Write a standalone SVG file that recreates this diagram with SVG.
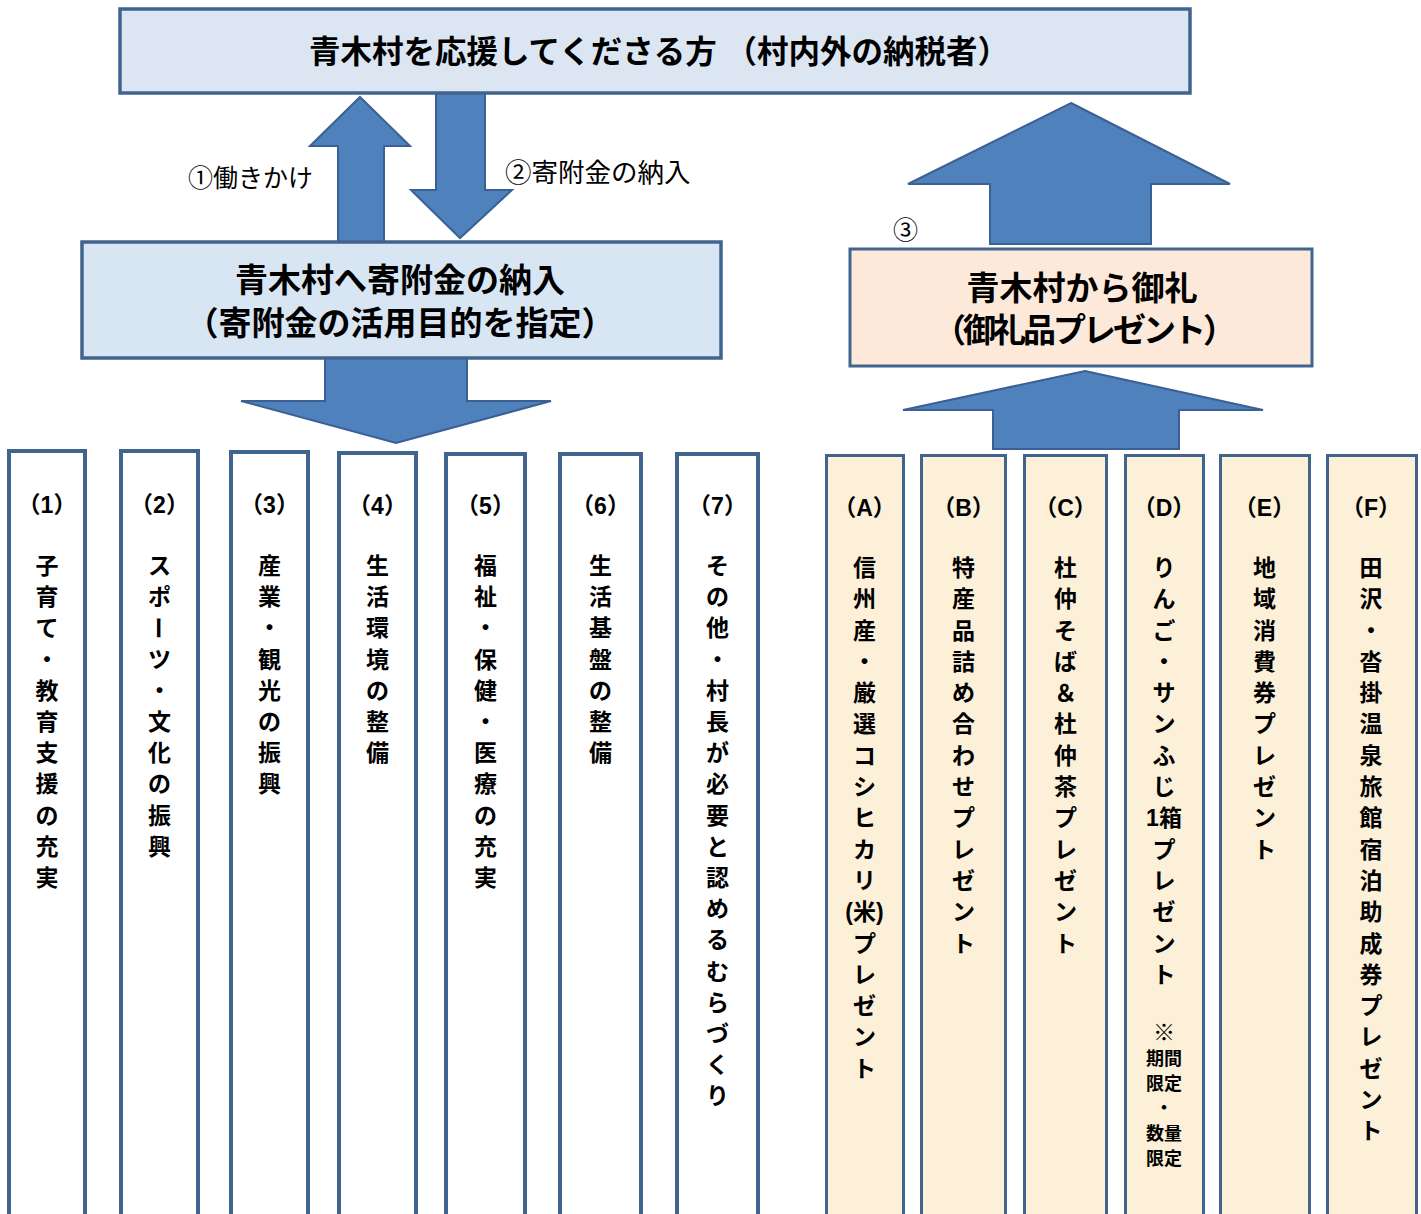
<svg xmlns="http://www.w3.org/2000/svg" width="1421" height="1214" viewBox="0 0 1421 1214">
<style>
text{font-family:"Liberation Sans","Noto Sans CJK JP",sans-serif;fill:#000}
.box{stroke:#41648f;stroke-width:3.5}
.arrow{fill:#4f81bd;stroke:#3a6094;stroke-width:2;stroke-linejoin:miter}
.colL{fill:#ffffff;stroke:#41648f;stroke-width:4}
.colR{fill:#fcf0d8;stroke:#41648f;stroke-width:3}
.h{font-weight:bold;text-anchor:middle;dominant-baseline:central}
.lbl{font-size:25px;dominant-baseline:central}
.ct{font-size:23px;font-weight:bold;text-anchor:middle;dominant-baseline:central}
.cl{font-size:23px;font-weight:bold;text-anchor:middle;dominant-baseline:central}
.note{font-family:"Noto Sans CJK JP",sans-serif;font-size:18px;font-weight:bold;text-anchor:middle;dominant-baseline:central}
</style>
<rect width="1421" height="1214" fill="#ffffff"/>
<g id="connectors">
<polygon class="arrow" points="360,97 410,146 384,146 384,242 338,242 338,146 310,146"/>
<polygon class="arrow" points="436,93 485,93 485,190 512,190 460,238 411,190 436,190"/>
<polygon class="arrow" points="325,358 467,358 467,401 551,401 396,443 241,401 325,401"/>
<polygon class="arrow" points="1071,103 1230,184 1151,184 1151,244 990,244 990,184 908,184"/>
<polygon class="arrow" points="1085,371 1263,410 1179,410 1179,449 993,449 993,410 903,410"/>
<text class="lbl" x="188" y="178">①働きかけ</text>
<text class="lbl" x="505" y="173" style="font-size:26.5px">②寄附金の納入</text>
<text class="lbl" x="893" y="230">③</text>
</g>
<g id="top">
<rect class="box" x="120" y="9" width="1070" height="84" fill="#dce6f2"/>
<text class="h" x="659" y="52" font-size="31.5">青木村を応援してくださる方 （村内外の納税者）</text>
</g>
<g id="donation">
<rect class="box" x="82" y="242" width="639" height="116" fill="#d8e6f4"/>
<text class="h" x="400" y="280" font-size="33">青木村へ寄附金の納入</text>
<text class="h" x="400" y="323" font-size="33">（寄附金の活用目的を指定）</text>
</g>
<g id="thanks">
<rect class="box" x="850" y="249" width="462" height="117" fill="#fde9d9" style="stroke-width:3"/>
<text class="h" x="1082" y="288" font-size="33">青木村から御礼</text>
<text class="h" x="1083" y="330" font-size="33" letter-spacing="-3">（御礼品プレゼント）</text>
</g>
<g id="col1">
<rect class="colL" x="9" y="451" width="76" height="790"/>
<text class="cl" x="47" y="505">（1）</text>
<text class="ct" x="47 47 47 47 47 47 47 47 47 47 47" y="566 597 628 660 691 722 753 784 816 847 878">子育て・教育支援の充実</text>
</g>
<g id="col2">
<rect class="colL" x="121" y="451" width="77" height="790"/>
<text class="cl" x="159.5" y="505">（2）</text>
<text class="ct" x="159.5 159.5" y="566 597">スポ<tspan x="150" y="608.5" rotate="90" style="text-anchor:start">ー</tspan><tspan x="159.5 159.5 159.5 159.5 159.5 159.5 159.5" y="660 691 722 753 784 816 847">ツ・文化の振興</tspan></text>
</g>
<g id="col3">
<rect class="colL" x="231" y="452" width="77" height="790"/>
<text class="cl" x="269.5" y="505">（3）</text>
<text class="ct" x="269.5 269.5 269.5 269.5 269.5 269.5 269.5 269.5" y="566 597 628 660 691 722 753 784">産業・観光の振興</text>
</g>
<g id="col4">
<rect class="colL" x="339" y="453" width="77" height="790"/>
<text class="cl" x="377.5" y="506">（4）</text>
<text class="ct" x="377.5 377.5 377.5 377.5 377.5 377.5 377.5" y="566 597 628 660 691 722 753">生活環境の整備</text>
</g>
<g id="col5">
<rect class="colL" x="446" y="454" width="79" height="790"/>
<text class="cl" x="485.5" y="506">（5）</text>
<text class="ct" x="485.5 485.5 485.5 485.5 485.5 485.5 485.5 485.5 485.5 485.5 485.5" y="566 597 628 660 691 722 753 784 816 847 878">福祉・保健・医療の充実</text>
</g>
<g id="col6">
<rect class="colL" x="560" y="454" width="81" height="790"/>
<text class="cl" x="600.5" y="506">（6）</text>
<text class="ct" x="600.5 600.5 600.5 600.5 600.5 600.5 600.5" y="566 597 628 660 691 722 753">生活基盤の整備</text>
</g>
<g id="col7">
<rect class="colL" x="677" y="454" width="81" height="790"/>
<text class="cl" x="717.5" y="506">（7）</text>
<text class="ct" x="717.5 717.5 717.5 717.5 717.5 717.5 717.5 717.5 717.5 717.5 717.5 717.5 717.5 717.5 717.5 717.5 717.5 717.5" y="566 597 628 660 691 722 753 784 816 847 878 909 940 972 1003 1034 1065 1096">その他・村長が必要と認めるむらづくり</text>
</g>
<g id="colA">
<rect class="colR" x="826.5" y="455.5" width="77" height="790"/>
<text class="cl" x="864.5" y="508">（A）</text>
<text class="ct" x="864.5 864.5 864.5 864.5 864.5 864.5 864.5 864.5 864.5 864.5 864.5" y="568 599 631 662 693 724 756 787 818 850 881">信州産・厳選コシヒカリ<tspan x="864.5" y="912">(米)</tspan><tspan x="864.5 864.5 864.5 864.5 864.5" y="944 975 1006 1037 1069">プレゼント</tspan></text>
</g>
<g id="colB">
<rect class="colR" x="921.5" y="455.5" width="84" height="790"/>
<text class="cl" x="963.5" y="508">（B）</text>
<text class="ct" x="963.5 963.5 963.5 963.5 963.5 963.5 963.5 963.5 963.5 963.5 963.5 963.5 963.5" y="568 599 631 662 693 724 756 787 818 850 881 912 944">特産品詰め合わせプレゼント</text>
</g>
<g id="colC">
<rect class="colR" x="1024.5" y="455.5" width="82" height="790"/>
<text class="cl" x="1065.5" y="508">（C）</text>
<text class="ct" x="1065.5 1065.5 1065.5 1065.5 1065.5 1065.5 1065.5 1065.5 1065.5 1065.5 1065.5 1065.5 1065.5" y="568 599 631 662 693 724 756 787 818 850 881 912 944">杜仲そば＆杜仲茶プレゼント</text>
</g>
<g id="colD">
<rect class="colR" x="1125.5" y="455.5" width="78" height="790"/>
<text class="cl" x="1164" y="508">（D）</text>
<text class="ct" x="1164 1164 1164 1164 1164 1164 1164 1164" y="568 599 631 662 693 724 756 787">りんご・サンふじ<tspan x="1164" y="818">1箱</tspan><tspan x="1164 1164 1164 1164 1164" y="850 881 912 944 975">プレゼント</tspan></text>
<text class="note" x="1164" y="1030"><tspan style="font-size:22px">※</tspan><tspan x="1164" y="1057">期間</tspan><tspan x="1164" y="1082">限定</tspan><tspan x="1164" y="1106">・</tspan><tspan x="1164" y="1132">数量</tspan><tspan x="1164" y="1157">限定</tspan></text>
</g>
<g id="colE">
<rect class="colR" x="1220.5" y="455.5" width="89" height="790"/>
<text class="cl" x="1264.5" y="508">（E）</text>
<text class="ct" x="1264.5 1264.5 1264.5 1264.5 1264.5 1264.5 1264.5 1264.5 1264.5 1264.5" y="568 599 631 662 693 724 756 787 818 850">地域消費券プレゼント</text>
</g>
<g id="colF">
<rect class="colR" x="1327.5" y="455.5" width="89" height="790"/>
<text class="cl" x="1371" y="508">（F）</text>
<text class="ct" x="1371 1371 1371 1371 1371 1371 1371 1371 1371 1371 1371 1371 1371 1371 1371 1371 1371 1371 1371" y="568 599 631 662 693 724 756 787 818 850 881 912 944 975 1006 1037 1069 1100 1131">田沢・沓掛温泉旅館宿泊助成券プレゼント</text>
</g>
</svg>
